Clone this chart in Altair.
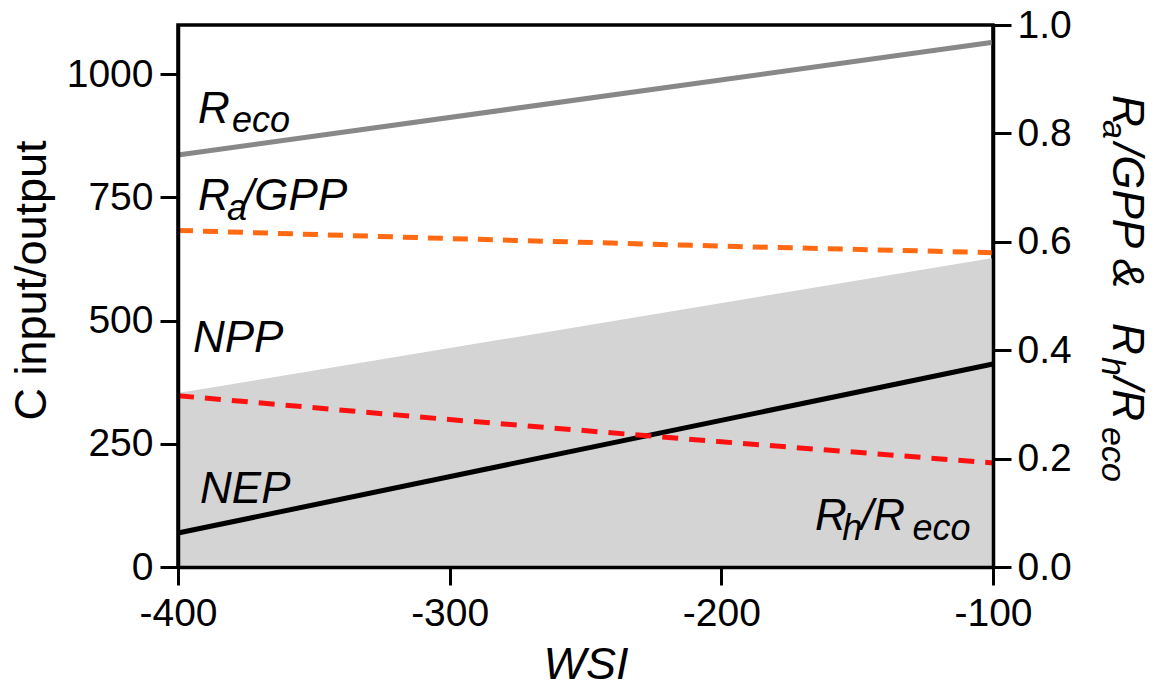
import altair as alt
import pandas as pd

FONT = "Liberation Sans"

# ---------------- data ----------------
wsi_ends = [-400, -100]
reco = [836, 1065]
npp = [353, 627]
nep = [69, 412]

wsi_ratio = [-400, -300, -200, -100]
ra_gpp = [0.621, 0.606, 0.592, 0.580]
rh_reco = [0.316, 0.272, 0.231, 0.192]

x_ticks = [-400, -300, -200, -100]
left_ticks = [0, 250, 500, 750, 1000]
right_ticks = [0.0, 0.2, 0.4, 0.6, 0.8, 1.0]

# in-plot labels (pieces; subscripts are separate pieces)
lab_text = ["R", "eco", "R", "a", "/GPP", "NPP", "NEP", "R", "h", "/R", "eco"]
lab_wsi = [-392.6, -380.1, -392.6, -382.0, -376.4, -394.5, -391.9, -165.5, -155.5, -148.6, -129.6]
lab_c = [901, 883, 724.5, 704, 724.5, 436, 130, 75, 55, 75, 55]
lab_fs = [44, 36, 44, 36, 44, 44, 44, 44, 36, 44, 36]

# right axis title pieces (rotated)
rt_text = ["R", "a", "/GPP & ", "R", "h", "/R", "eco"]
rt_pos = [70, 95, 118, 298, 332, 352, 402]
rt_base = [935, 925, 935, 935, 924, 935, 924]
rt_fs = [44, 34, 44, 44, 34, 44, 34]

# ---------------- tables ----------------
df_reco = pd.DataFrame({"wsi": wsi_ends, "c": reco})
df_npp = pd.DataFrame({"wsi": wsi_ends, "c": npp})
df_nep = pd.DataFrame({"wsi": wsi_ends, "c": nep})
df_ra = pd.DataFrame({"wsi": wsi_ratio, "r": ra_gpp})
df_rh = pd.DataFrame({"wsi": wsi_ratio, "r": rh_reco})
df_lab = pd.DataFrame({"wsi": lab_wsi, "c": lab_c, "t": lab_text, "fs": lab_fs})

x_enc = alt.X(
    "wsi:Q",
    scale=alt.Scale(domain=[-400, -100], nice=False, zero=False),
    axis=alt.Axis(
        values=x_ticks,
        title="WSI",
        titleFontStyle="italic",
        titleBaseline="alphabetic",
        titleY=111,
        labelExpr="datum.value < 0 ? '-' + format(-datum.value, 'd') : format(datum.value, 'd')",
        labelFlush=False,
        labelOverlap=False,
        labelPadding=9,
        zindex=2,
    ),
)

y_left = alt.Y(
    "c:Q",
    scale=alt.Scale(domain=[0, 1100], nice=False),
    axis=alt.Axis(
        values=left_ticks,
        format="d",
        title="C input/output",
        titleBaseline="alphabetic",
        titleAngle=270,
        titleX=-133,
        titleY=255,
        labelPadding=7,
        labelOverlap=False,
        zindex=2,
    ),
)

y_right = alt.Y(
    "r:Q",
    scale=alt.Scale(domain=[0, 1], nice=False),
    axis=alt.Axis(
        values=right_ticks,
        format=".1f",
        orient="right",
        title="",
        labelPadding=6,
        labelOverlap=False,
        zindex=2,
    ),
)

area = alt.Chart(df_npp).mark_area(color="#d4d4d4").encode(x=x_enc, y=y_left)
line_reco = alt.Chart(df_reco).mark_line(color="#888888", strokeWidth=5).encode(x=x_enc, y=y_left)
line_nep = alt.Chart(df_nep).mark_line(color="black", strokeWidth=5).encode(x=x_enc, y=y_left)
labels = alt.Chart(df_lab).mark_text(
    font=FONT, fontStyle="italic", align="left", baseline="alphabetic", color="black"
).encode(x=x_enc, y=y_left, text="t:N", size=alt.Size("fs:Q", scale=None))

left_group = alt.layer(area, line_reco, line_nep, labels)

line_ra = alt.Chart(df_ra).mark_line(color="#ff6a13", strokeWidth=5, strokeDash=[15, 10]).encode(x=x_enc, y=y_right)
line_rh = alt.Chart(df_rh).mark_line(color="#ff1010", strokeWidth=5, strokeDash=[16, 11]).encode(x=x_enc, y=y_right)
right_group = alt.layer(line_ra, line_rh)

title_layers = []
for t, p, b, fs in zip(rt_text, rt_pos, rt_base, rt_fs):
    title_layers.append(
        alt.Chart(pd.DataFrame({"t": [t]}))
        .mark_text(angle=90, align="left", baseline="alphabetic", font=FONT,
                   fontStyle="italic", fontSize=fs, color="black")
        .encode(x=alt.value(b), y=alt.value(p), text="t:N")
    )

chart = (
    alt.layer(alt.layer(left_group, right_group).resolve_scale(y="independent"), *title_layers)
    .properties(
        width=815,
        height=542,
        padding={"left": 170, "top": 17, "right": 158, "bottom": 112},
        autosize=alt.AutoSizeParams(type="none"),
    )
    .configure_view(stroke="black", strokeWidth=3.5)
    .configure_axis(
        domainColor="black",
        domainWidth=3.5,
        tickColor="black",
        tickWidth=3,
        tickSize=18,
        labelFont=FONT,
        labelFontSize=39,
        labelColor="black",
        titleFont=FONT,
        titleFontSize=45,
        titleColor="black",
        titleFontWeight="normal",
        grid=False,
    )
)

chart.save("out.html", embed_options={"renderer": "svg", "actions": False})
